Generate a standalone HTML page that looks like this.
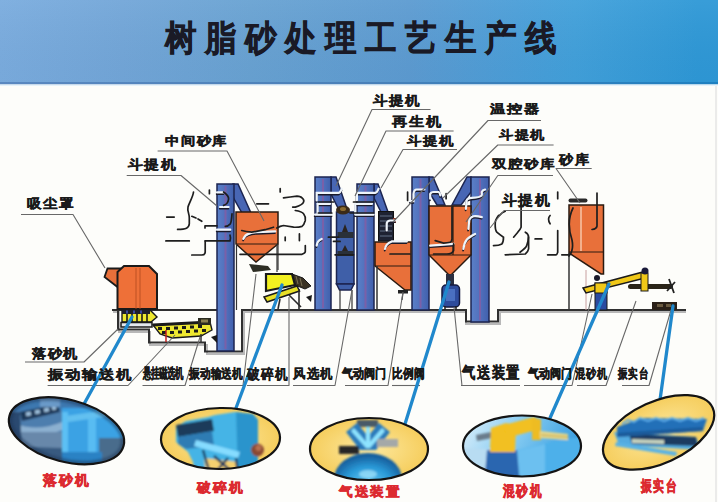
<!DOCTYPE html>
<html><head><meta charset="utf-8">
<style>
html,body{margin:0;padding:0;background:#fff;}
body{width:718px;height:502px;overflow:hidden;position:relative;font-family:"Liberation Sans",sans-serif;}
svg{position:absolute;left:0;top:0;}
text{font-family:"Liberation Sans",sans-serif;font-weight:900;}
</style></head><body>
<svg width="718" height="502" viewBox="0 0 718 502">
<defs>
<linearGradient id="hdr" x1="0" y1="0" x2="1" y2="0">
<stop offset="0" stop-color="#7aacde"/>
<stop offset="0.17" stop-color="#72a6d8"/>
<stop offset="0.35" stop-color="#68a2d2"/>
<stop offset="0.57" stop-color="#5c9bd1"/>
<stop offset="0.72" stop-color="#4a9ed8"/>
<stop offset="0.8" stop-color="#41a0da"/>
<stop offset="0.97" stop-color="#2e98d6"/>
</linearGradient>
<linearGradient id="hdrv" x1="0" y1="0" x2="0" y2="1">
<stop offset="0" stop-color="#ffffff" stop-opacity="0.05"/>
<stop offset="1" stop-color="#000020" stop-opacity="0.02"/>
</linearGradient>
<linearGradient id="blueph" x1="0" y1="0" x2="1" y2="1">
<stop offset="0" stop-color="#2a4a70"/>
<stop offset="0.45" stop-color="#3aa8e0"/>
<stop offset="1" stop-color="#1e5a90"/>
</linearGradient>
<radialGradient id="yel" cx="0.5" cy="0.5" r="0.6">
<stop offset="0" stop-color="#fde9a0"/>
<stop offset="1" stop-color="#f4c850"/>
</radialGradient>
<linearGradient id="skyb" x1="0" y1="0" x2="1" y2="0.3">
<stop offset="0" stop-color="#e0f0fa"/>
<stop offset="0.5" stop-color="#86ccf2"/>
<stop offset="1" stop-color="#3a9ee0"/>
</linearGradient>
<radialGradient id="tank" cx="0.5" cy="0.6" r="0.55">
<stop offset="0" stop-color="#6cd0f8"/>
<stop offset="0.6" stop-color="#2a9ad8"/>
<stop offset="1" stop-color="#17609e"/>
</radialGradient>
<filter id="soft" x="-10%" y="-10%" width="120%" height="120%"><feGaussianBlur stdDeviation="0.9"/></filter>
<linearGradient id="colg" x1="0" y1="0" x2="1" y2="0">
<stop offset="0" stop-color="#5a80c8"/>
<stop offset="0.5" stop-color="#5270bc"/>
<stop offset="1" stop-color="#4060ac"/>
</linearGradient>
<linearGradient id="band" x1="0" y1="0" x2="1" y2="0">
<stop offset="0" stop-color="#5a88c0"/>
<stop offset="0.5" stop-color="#4a80b8"/>
<stop offset="1" stop-color="#1e80c0"/>
</linearGradient>
</defs>
<rect x="0" y="0" width="718" height="502" fill="#fdfdfa"/>
<rect x="0" y="0" width="718" height="84" fill="url(#hdr)"/>
<rect x="0" y="0" width="718" height="84" fill="url(#hdrv)"/>
<rect x="0" y="82" width="718" height="2.5" fill="url(#band)"/>
<rect x="0" y="84.5" width="718" height="1.5" fill="#e6f2fa"/>
<line x1="716" y1="86" x2="716" y2="502" stroke="#e4e4e4" stroke-width="1.5"/>

<text x="0" y="0" font-size="35" fill="#1a1a26" stroke="#1a1a26" stroke-width="0.7" transform="translate(165.0,50) scale(0.9,1)">树</text>
<text x="0" y="0" font-size="35" fill="#1a1a26" stroke="#1a1a26" stroke-width="0.7" transform="translate(205.0,50) scale(0.9,1)">脂</text>
<text x="0" y="0" font-size="35" fill="#1a1a26" stroke="#1a1a26" stroke-width="0.7" transform="translate(245.0,50) scale(0.9,1)">砂</text>
<text x="0" y="0" font-size="35" fill="#1a1a26" stroke="#1a1a26" stroke-width="0.7" transform="translate(285.0,50) scale(0.9,1)">处</text>
<text x="0" y="0" font-size="35" fill="#1a1a26" stroke="#1a1a26" stroke-width="0.7" transform="translate(325.0,50) scale(0.9,1)">理</text>
<text x="0" y="0" font-size="35" fill="#1a1a26" stroke="#1a1a26" stroke-width="0.7" transform="translate(365.0,50) scale(0.9,1)">工</text>
<text x="0" y="0" font-size="35" fill="#1a1a26" stroke="#1a1a26" stroke-width="0.7" transform="translate(405.0,50) scale(0.9,1)">艺</text>
<text x="0" y="0" font-size="35" fill="#1a1a26" stroke="#1a1a26" stroke-width="0.7" transform="translate(445.0,50) scale(0.9,1)">生</text>
<text x="0" y="0" font-size="35" fill="#1a1a26" stroke="#1a1a26" stroke-width="0.7" transform="translate(485.0,50) scale(0.9,1)">产</text>
<text x="0" y="0" font-size="35" fill="#1a1a26" stroke="#1a1a26" stroke-width="0.7" transform="translate(525.0,50) scale(0.9,1)">线</text>
<g fill="none" stroke-linejoin="miter">
<path d="M113 312 H119 V332 H150 V345 H207 V354 H244 V312 H466 V324 H500 V312 H686" stroke="#b8b8b8" stroke-width="2"/>
<path d="M112 310 H217 M118 310 V329.5 H149 V342.5 H205 V351.5 H242 V310 H466 V321.5 H498 V310 H686" stroke="#303030" stroke-width="2"/>
</g>
<polygon points="233,184 238,184 251,213 242,213 233,197" fill="#4866b4" stroke="#1c2550" stroke-width="1.5"/>
<rect x="217" y="184" width="17" height="167" fill="url(#colg)" stroke="#1c2550" stroke-width="1.5"/>
<line x1="225.5" y1="186" x2="225.5" y2="349" stroke="#7a60a8" stroke-width="2"/>
<polygon points="331,177 336,177 348,212 340,212 331,194" fill="#4866b4" stroke="#1c2550" stroke-width="1.5"/>
<rect x="315" y="177" width="16" height="133" fill="url(#colg)" stroke="#1c2550" stroke-width="1.5"/>
<line x1="323.0" y1="179" x2="323.0" y2="308" stroke="#7a60a8" stroke-width="2"/>
<polygon points="374,184 378,184 388,212 381,212 374,198" fill="#4866b4" stroke="#1c2550" stroke-width="1.5"/>
<rect x="357" y="184" width="17" height="126" fill="url(#colg)" stroke="#1c2550" stroke-width="1.5"/>
<line x1="365.5" y1="186" x2="365.5" y2="308" stroke="#7a60a8" stroke-width="2"/>
<polygon points="429,177 433,177 445,205 437,205 429,192" fill="#4866b4" stroke="#1c2550" stroke-width="1.5"/>
<rect x="412" y="177" width="17" height="133" fill="url(#colg)" stroke="#1c2550" stroke-width="1.5"/>
<line x1="420.5" y1="179" x2="420.5" y2="308" stroke="#7a60a8" stroke-width="2"/>
<polygon points="471,177 467,177 452,205 461,205 471,192" fill="#4866b4" stroke="#1c2550" stroke-width="1.5"/>
<rect x="471" y="177" width="18" height="145" fill="url(#colg)" stroke="#1c2550" stroke-width="1.5"/>
<line x1="480.0" y1="179" x2="480.0" y2="320" stroke="#7a60a8" stroke-width="2"/>
<g stroke="#2a1a10" stroke-width="1.5">
<polygon points="236,212 278,212 278,244 256,262 236,244" fill="#e8703a"/>
<line x1="236" y1="244" x2="278" y2="244" stroke-width="1"/>
<polygon points="375,242 411,242 411,290 405,290 375,266" fill="#e8703a"/>
<line x1="375" y1="266" x2="411" y2="266" stroke-width="1"/>
<polygon points="429,206 471,206 471,255 450,276 429,255" fill="#e8703a"/>
<line x1="429" y1="255" x2="471" y2="255" stroke-width="1"/>
<line x1="453" y1="206" x2="453" y2="255" stroke-width="1.2"/>
<polygon points="569,205 603.5,205 603.5,274 601,274 569,253" fill="#e8703a"/>
<line x1="569" y1="252" x2="603.5" y2="252" stroke-width="1"/>
</g>
<line x1="581" y1="207" x2="581" y2="251" stroke="#fff0e0" stroke-width="1"/>
<rect x="568.5" y="198.5" width="19" height="4" rx="2" fill="#2a2a2a"/>
<line x1="569" y1="253" x2="569" y2="310" stroke="#333" stroke-width="1.5"/>
<line x1="377" y1="266" x2="377" y2="310" stroke="#333" stroke-width="1.5"/>
<line x1="278" y1="244" x2="278" y2="270" stroke="#333" stroke-width="1.2"/>

<g fill="#222">
<rect x="398" y="290" width="10" height="3.5"/>
<line x1="403" y1="293" x2="402" y2="300" stroke="#333" stroke-width="1.2"/>
<rect x="446" y="274" width="8" height="4" fill="#2a2418"/>
</g>
<g stroke="#1c2550" stroke-width="1.5">
<rect x="336.5" y="212" width="17.5" height="72" fill="#3f5fa8"/>
<polygon points="336.5,284 354,284 351,290 339.5,290" fill="#3f5fa8"/>
</g>
<ellipse cx="343" cy="210" rx="7" ry="4.5" fill="#3a2a18"/>
<ellipse cx="343" cy="209" rx="3" ry="2" fill="#8a6a30"/>
<rect x="337.5" y="232" width="16" height="6" fill="#2a3038"/>
<polygon points="342,232 345,224 348,232" fill="#2a2420"/>
<rect x="337.5" y="251" width="16" height="5" fill="#2a3038"/>
<polygon points="342,251 345,245 348,251" fill="#2a2420"/>
<line x1="340" y1="290" x2="340" y2="310" stroke="#333" stroke-width="1.2"/>
<line x1="352" y1="290" x2="352" y2="310" stroke="#333" stroke-width="1.2"/>
<rect x="378.5" y="211.5" width="15" height="29.5" fill="#1e2232" stroke="#111" stroke-width="1"/>
<g stroke="#6a7890" stroke-width="0.9"><line x1="380" y1="216" x2="392" y2="216"/><line x1="380" y1="221" x2="392" y2="221"/><line x1="380" y1="226" x2="392" y2="226"/><line x1="380" y1="231" x2="392" y2="231"/><line x1="380" y1="236" x2="392" y2="236"/></g>
<rect x="393" y="218" width="3" height="5" fill="#8a3a2a"/>

<rect x="446" y="274" width="8" height="12" fill="#2a2e40"/>
<rect x="442" y="285" width="17.5" height="22" rx="4" fill="#2e4c9c" stroke="#141a40" stroke-width="1.5"/>
<rect x="446" y="289" width="9" height="12" fill="#4a70c0"/>
<line x1="445" y1="306" x2="445" y2="310" stroke="#222" stroke-width="1.5"/>
<line x1="456" y1="306" x2="456" y2="310" stroke="#222" stroke-width="1.5"/>

<polygon points="104.5,277 107.5,268.5 120,268.5 117.5,287" fill="#e8703a" stroke="#1a1a1a" stroke-width="1.8"/>
<polygon points="117.5,272 124,266 149,266 157,274 157,309 117.5,309" fill="#ee7038" stroke="#1a1a1a" stroke-width="2"/>
<line x1="136" y1="268" x2="136" y2="309" stroke="#b04a20" stroke-width="0.8"/>
<line x1="140" y1="268" x2="140" y2="309" stroke="#b04a20" stroke-width="0.8"/>
<polygon points="122,310 150,310 157,317 151,322 122,322" fill="#eee830" stroke="#1a1a1a" stroke-width="1.4"/>
<rect x="122" y="310" width="28" height="4" fill="#1e1e2a"/>
<g fill="#3a4aa0"><rect x="126" y="310.5" width="2" height="3"/><rect x="133" y="310.5" width="2" height="3"/><rect x="140" y="310.5" width="2" height="3"/></g>
<g stroke="#1a1a1a" stroke-width="1.6"><line x1="127" y1="314" x2="127" y2="322"/><line x1="132" y1="314" x2="132" y2="322"/><line x1="137" y1="314" x2="137" y2="322"/><line x1="142" y1="314" x2="142" y2="322"/><line x1="147" y1="314" x2="147" y2="322"/></g>
<rect x="121" y="322.5" width="31" height="4.5" fill="#e4e8ee" stroke="#1a1a1a" stroke-width="1.5"/>
<path d="M153 325 L210 322 L212 330 L201 336 L172 338 L160 334 Z" fill="#eee830" stroke="#1a1a1a" stroke-width="1.4"/>
<path d="M153 325 L210 322" stroke="#1a1a1a" stroke-width="3"/>
<g fill="#1a1a1a">
<rect x="158" y="327" width="4" height="3"/><rect x="166" y="327" width="4" height="3"/><rect x="174" y="326.5" width="4" height="3"/><rect x="182" y="326" width="4" height="3"/><rect x="190" y="325.5" width="4" height="3"/><rect x="198" y="325" width="4" height="3"/>
<rect x="162" y="331" width="4" height="3"/><rect x="170" y="331" width="4" height="3"/><rect x="178" y="330.5" width="4" height="3"/><rect x="186" y="330" width="4" height="3"/><rect x="194" y="329.5" width="4" height="3"/><rect x="202" y="329" width="4" height="3"/>
</g>
<rect x="198" y="318" width="13" height="7" fill="#2a2a20"/>
<rect x="201" y="319.5" width="7" height="3" fill="#8a8050"/>
<line x1="166" y1="330" x2="166" y2="342" stroke="#c02020" stroke-width="1.5"/>
<line x1="201" y1="334" x2="201" y2="343" stroke="#333" stroke-width="1.5"/>
<polygon points="211,337 217,335 217,343" fill="#1a1a1a"/>

<polygon points="249,264 268,266 271,270 253,272" fill="#2e2e24"/>
<line x1="236.5" y1="244" x2="236.5" y2="310" stroke="#333" stroke-width="1.2"/>
<line x1="277" y1="244" x2="277" y2="272" stroke="#333" stroke-width="1.2"/>

<polygon points="292,274 303,278 311,286 305,289 295,285" fill="#3a3224" stroke="#1a1a1a" stroke-width="1"/>
<g stroke="#8a8060" stroke-width="0.8"><line x1="296" y1="276" x2="298" y2="284"/><line x1="300" y1="278" x2="302" y2="286"/></g>
<polygon points="266,274 292,274 295,285 266,291" fill="#f2f020" stroke="#1a1a1a" stroke-width="2.2"/>
<polygon points="264,297 297,286 299.5,291 267,302" fill="#e8e028" stroke="#1a1a1a" stroke-width="1.5"/>
<g stroke="#2a2a2a" stroke-width="1.6"><line x1="299" y1="289" x2="299" y2="309"/><line x1="289" y1="295" x2="301" y2="307"/><line x1="280" y1="299" x2="278" y2="309"/></g>
<polygon points="306,297 312,295 311,302" fill="#1a1a1a"/>

<line x1="586" y1="270" x2="586" y2="310" stroke="#c8a0a0" stroke-width="1"/>
<polygon points="583,288 643,272 645,278 586,293" fill="#f0c818" stroke="#1a1a1a" stroke-width="1.5"/>
<rect x="595" y="283" width="12" height="27" fill="#2a4aa0" stroke="#1a1a1a" stroke-width="1"/>
<rect x="595" y="283" width="12" height="10" fill="#f0c818" stroke="#1a1a1a" stroke-width="1"/>
<circle cx="597" cy="278" r="3" fill="#1a1a2a"/>
<rect x="628" y="284" width="45" height="5" rx="2.5" fill="#2a2418"/>
<rect x="641" y="273" width="7" height="18" fill="#f0c818" stroke="#1a1a1a" stroke-width="1"/>
<circle cx="645" cy="271" r="3.5" fill="#1a1a3a"/>
<path d="M669 279 L674 293 M667 291 L675 282" stroke="#222" stroke-width="1.8"/>

<rect x="652" y="302" width="25" height="8" fill="#2a2018"/>
<rect x="657" y="304" width="6" height="3" fill="#6a5a40"/>
<rect x="666" y="304" width="5" height="3" fill="#6a5a40"/>

<g fill="none" stroke-linecap="round">
<path d="M217 192.4 H223.6 M220 207 H228.6 M217 229.7 H230.3" stroke="#1a1a2a" stroke-width="1.8" transform="translate(-0.3,1.6)"/>
<path d="M243.4 238.9 Q245 235 248.4 233.9 Q252 232.2 256.8 232.2 L275.2 231.4" stroke="#1a1a2a" stroke-width="1.8" transform="translate(-0.3,1.6)"/>
<path d="M341.8 188.7 Q340 192.9 338.5 192.9 H316.7 V200.4" stroke="#1a1a2a" stroke-width="1.8" transform="translate(-0.3,1.6)"/>
<path d="M317.6 213.8 V203.8 H330.1 M315 214.6 H331.8" stroke="#1a1a2a" stroke-width="1.8" transform="translate(-0.3,1.6)"/>
<path d="M378.6 188.7 Q377 192.9 375.3 192.9 H356.9 V200.4" stroke="#1a1a2a" stroke-width="1.8" transform="translate(-0.3,1.6)"/>
<path d="M355.2 213.8 V203.8 H372 M355.2 214.6 H373.6" stroke="#1a1a2a" stroke-width="1.8" transform="translate(-0.3,1.6)"/>
<path d="M316.7 245.6 Q317 241 321.7 238.9" stroke="#1a1a2a" stroke-width="1.8" transform="translate(-0.3,1.6)"/>
<path d="M410.1 201.2 H413.5 V194 Q414 189.5 416.8 189.5 H424.4" stroke="#1a1a2a" stroke-width="1.8" transform="translate(-0.3,1.6)"/>
<path d="M430.2 198.7 V194 Q431 192 433.6 192 H438.6 Q440 192.5 440.3 195.4" stroke="#1a1a2a" stroke-width="1.8" transform="translate(-0.3,1.6)"/>
<path d="M395.1 220.5 H390 Q386.7 221 386.7 223.8 V230.5" stroke="#1a1a2a" stroke-width="1.8" transform="translate(-0.3,1.6)"/>
<path d="M430.2 245.6 L453.6 243.9" stroke="#1a1a2a" stroke-width="1.8" transform="translate(-0.3,1.6)"/>
<path d="M385 249 Q385.5 244 391.7 241.4 H406.8" stroke="#1a1a2a" stroke-width="1.8" transform="translate(-0.3,1.6)"/>
<path d="M485.1 189.5 Q482.6 190 481.8 192 V195 Q481 197.5 471.7 197.9 Q467 198.5 466.7 200.4 L465.9 208.8" stroke="#1a1a2a" stroke-width="1.8" transform="translate(-0.3,1.6)"/>
<path d="M481.8 217.1 Q476 215.5 473.4 216.3 Q469.2 218 469.2 220.5 L468.4 228.9" stroke="#1a1a2a" stroke-width="1.8" transform="translate(-0.3,1.6)"/>
<path d="M475.1 233.9 Q469 237 466.7 239.7 Q464 243 463.4 249" stroke="#1a1a2a" stroke-width="1.8" transform="translate(-0.3,1.6)"/>
<path d="M217 192.4 H223.6 M220 207 H228.6 M217 229.7 H230.3" stroke="#eef4fa" stroke-width="2.2"/>
<path d="M243.4 238.9 Q245 235 248.4 233.9 Q252 232.2 256.8 232.2 L275.2 231.4" stroke="#eef4fa" stroke-width="2.2"/>
<path d="M341.8 188.7 Q340 192.9 338.5 192.9 H316.7 V200.4" stroke="#eef4fa" stroke-width="2.2"/>
<path d="M317.6 213.8 V203.8 H330.1 M315 214.6 H331.8" stroke="#eef4fa" stroke-width="2.2"/>
<path d="M378.6 188.7 Q377 192.9 375.3 192.9 H356.9 V200.4" stroke="#eef4fa" stroke-width="2.2"/>
<path d="M355.2 213.8 V203.8 H372 M355.2 214.6 H373.6" stroke="#eef4fa" stroke-width="2.2"/>
<path d="M316.7 245.6 Q317 241 321.7 238.9" stroke="#eef4fa" stroke-width="2.2"/>
<path d="M410.1 201.2 H413.5 V194 Q414 189.5 416.8 189.5 H424.4" stroke="#eef4fa" stroke-width="2.2"/>
<path d="M430.2 198.7 V194 Q431 192 433.6 192 H438.6 Q440 192.5 440.3 195.4" stroke="#eef4fa" stroke-width="2.2"/>
<path d="M395.1 220.5 H390 Q386.7 221 386.7 223.8 V230.5" stroke="#eef4fa" stroke-width="2.2"/>
<path d="M430.2 245.6 L453.6 243.9" stroke="#eef4fa" stroke-width="2.2"/>
<path d="M385 249 Q385.5 244 391.7 241.4 H406.8" stroke="#eef4fa" stroke-width="2.2"/>
<path d="M485.1 189.5 Q482.6 190 481.8 192 V195 Q481 197.5 471.7 197.9 Q467 198.5 466.7 200.4 L465.9 208.8" stroke="#eef4fa" stroke-width="2.2"/>
<path d="M481.8 217.1 Q476 215.5 473.4 216.3 Q469.2 218 469.2 220.5 L468.4 228.9" stroke="#eef4fa" stroke-width="2.2"/>
<path d="M475.1 233.9 Q469 237 466.7 239.7 Q464 243 463.4 249" stroke="#eef4fa" stroke-width="2.2"/>
<path d="M193.5 192 C193 197 189 203 188 207 C187 211 189.5 214 189.3 218 L189.3 223.8 C189 228 186 229.4 177.6 229.4" stroke="#1e1e1e" stroke-width="1.7"/>
<path d="M166.7 217.1 H174.2" stroke="#1e1e1e" stroke-width="1.7"/>
<path d="M191.8 216.3 L196 218 M198 219 L201.8 221.3" stroke="#1e1e1e" stroke-width="1.7"/>
<path d="M205 225.8 H217 M205 225.8 V228" stroke="#1e1e1e" stroke-width="1.7"/>
<path d="M165.9 240.9 H189.3" stroke="#1e1e1e" stroke-width="1.7"/>
<path d="M205.2 240.9 H230 Q231 238 230 235" stroke="#1e1e1e" stroke-width="1.7"/>
<path d="M205.2 240.9 V252.3 Q205 255 201.8 255 H191.8" stroke="#1e1e1e" stroke-width="1.7"/>
<path d="M223.6 192 Q229 196 228.6 199 Q228 204 223.6 205.4" stroke="#1e1e1e" stroke-width="1.7"/>
<path d="M232 213.8 Q231.5 222 230.3 223.8 Q228 226.3 225.3 226.3" stroke="#1e1e1e" stroke-width="1.7"/>
<path d="M209.4 190 V193.7" stroke="#1e1e1e" stroke-width="1.7"/>
<path d="M283.5 197.9 L290.2 197 L296.9 196.2 Q301 196.5 302 197.9 Q304.5 200 303.6 202 Q302.5 205 295.3 207.1 H292.7" stroke="#1e1e1e" stroke-width="1.7"/>
<path d="M256.8 203.8 H268.5" stroke="#1e1e1e" stroke-width="1.7"/>
<path d="M295.3 210.5 Q302 211.5 303.6 213.8 Q306 217 305.3 220.5 Q304 225 302 226.4 Q298 227.5 293.6 227.2 L283.5 225.5 L280.2 226.4 L276.8 228" stroke="#1e1e1e" stroke-width="1.7"/>
<path d="M241.7 230.5 Q246 231.5 251.7 232.2 L265.1 229.7 L273.5 227.2" stroke="#1e1e1e" stroke-width="1.7"/>
<path d="M285.2 237.2 V240.6 M299.4 233.9 V240.6" stroke="#1e1e1e" stroke-width="1.7"/>
<path d="M240 254.3 H302 Q305.3 253 305.3 251.5 V245.6" stroke="#1e1e1e" stroke-width="1.7"/>
<path d="M280.2 188.7 V192" stroke="#1e1e1e" stroke-width="1.7"/>
<path d="M318.4 202 H333.5 M353.5 202 H373.6" stroke="#1e1e1e" stroke-width="1.7"/>
<path d="M318.4 213 H331.8 M350.2 213 H373.6" stroke="#1e1e1e" stroke-width="1.7"/>
<path d="M328.4 237.2 H338.5 M333.5 241.4 H340.1" stroke="#1e1e1e" stroke-width="1.7"/>
<path d="M335.1 254.8 H353.5" stroke="#1e1e1e" stroke-width="1.7"/>
<path d="M407.6 192 V200.4 M446.1 193.7 V198.7" stroke="#1e1e1e" stroke-width="1.7"/>
<path d="M452 207.1 V238.9 Q451.5 242 450.3 242.3 Q447 243.1 443.6 243.1 L435.2 240.6" stroke="#1e1e1e" stroke-width="1.7"/>
<path d="M453.6 243.9 V250.6 Q452 254 446.9 254 H433.6" stroke="#1e1e1e" stroke-width="1.7"/>
<path d="M390 254 H410" stroke="#1e1e1e" stroke-width="1.7"/>
<path d="M498.5 215.5 Q495 220 495.2 223.8 Q495 230 496.8 232.2 Q500 235 503.5 237.2 Q503.5 242 501.9 243.9 Q499 245.6 493.5 245.6" stroke="#1e1e1e" stroke-width="1.7"/>
<path d="M521.1 203.8 V227.2 Q520 230 517.8 232.2 L513.6 237.2" stroke="#1e1e1e" stroke-width="1.7"/>
<path d="M525.3 232.2 Q528.6 234 528.6 237.2 V248.9 Q528 252 525.3 254 L505.2 254.8" stroke="#1e1e1e" stroke-width="1.7"/>
<path d="M505.2 211.3 Q502 212.5 499.4 215.5" stroke="#1e1e1e" stroke-width="1.7"/>
<path d="M557.7 192 V198.7" stroke="#1e1e1e" stroke-width="1.7"/>
<path d="M550.1 215.5 Q547 218.8 550.1 223.8" stroke="#1e1e1e" stroke-width="1.7"/>
<path d="M535.1 238.9 H541.8" stroke="#1e1e1e" stroke-width="1.7"/>
<path d="M557.7 230.5 V252.3 Q557 254.8 556 254.8 H547.6" stroke="#1e1e1e" stroke-width="1.7"/>
<path d="M561.8 254.8 H568.5" stroke="#1e1e1e" stroke-width="1.7"/>
<path d="M520 252.3 Q526 248 526.7 245.6 Q528.4 241 528.4 237.2" stroke="#1e1e1e" stroke-width="1.7"/>
<path d="M597 193 V226 Q596.5 229 592 229.5" stroke="#1e1e1e" stroke-width="1.7"/>
<path d="M573 208 Q566 222 572 240 Q574 250 569 256" stroke="#1e1e1e" stroke-width="1.7"/>
</g>
<g fill="none" stroke="#686868" stroke-width="1.1" stroke-linejoin="round">
<path d="M21 214.5 H73 L105 268"/>
<path d="M126.7 175.5 H181 L217 206"/>
<path d="M157.6 151 H227 L264 221"/>
<path d="M430.5 109.5 H372 L336 186"/>
<path d="M453.6 131 H386 L355 196"/>
<path d="M457 149.5 H403 L381 188"/>
<path d="M541 120.5 H488 L393 222"/>
<path d="M553.6 145 H497.8 L443 198"/>
<path d="M553 175.5 H497.8 L466 222"/>
<path d="M591.7 168.5 H556 L580 203"/>
<path d="M550 210.5 H504 L490 228"/>
<path d="M25 362 H84 L118 329"/>
<path d="M47.6 385.5 H128 L175 335"/>
<path d="M142.5 385.5 H185 L200 337"/>
<path d="M189 385.5 H243 L256 274"/>
<path d="M247 385.5 H289 V297"/>
<path d="M293 385.5 H335 L352 290"/>
<path d="M345 385.5 H388 L403 292"/>
<path d="M392 385.5 H420"/>
<path d="M461 385.5 H520 M462 386 L454 307"/>
<path d="M524 385.5 H572 L592 294"/>
<path d="M577 385.5 H606 L636 301"/>
<path d="M622 385.5 H649 L671 310"/>
</g>
<g stroke="#2088cc" stroke-width="3.3" stroke-linecap="round">
<line x1="132" y1="317" x2="84" y2="404"/>
<line x1="282" y1="285" x2="236" y2="408"/>
<line x1="449" y1="282" x2="405" y2="424"/>
<line x1="609" y1="284" x2="550" y2="418"/>
<line x1="673" y1="306" x2="660" y2="400"/>
</g>
<text x="0.00 14.38 28.75" y="0" font-size="12.75" fill="#1a1a1a" stroke="#1a1a1a" stroke-width="0.4" transform="translate(27.0,208.0) scale(1.119,1)" >吸尘罩</text>
<text x="0.00 14.38 28.75" y="0" font-size="12.75" fill="#1a1a1a" stroke="#1a1a1a" stroke-width="0.4" transform="translate(128.0,169.0) scale(1.143,1)" >斗提机</text>
<text x="0.00 13.27 26.54 39.81" y="0" font-size="11.76" fill="#1a1a1a" stroke="#1a1a1a" stroke-width="0.4" transform="translate(165.0,145.1) scale(1.191,1)" >中间砂库</text>
<text x="0.00 14.38 28.75" y="0" font-size="12.75" fill="#1a1a1a" stroke="#1a1a1a" stroke-width="0.4" transform="translate(373.0,105.0) scale(1.119,1)" >斗提机</text>
<text x="0.00 14.38 28.75" y="0" font-size="12.75" fill="#1a1a1a" stroke="#1a1a1a" stroke-width="0.4" transform="translate(392.0,126.0) scale(1.168,1)" >再生机</text>
<text x="0.00 13.27 26.54" y="0" font-size="11.76" fill="#1a1a1a" stroke="#1a1a1a" stroke-width="0.4" transform="translate(407.0,145.1) scale(1.212,1)" >斗提机</text>
<text x="0.00 13.27 26.54" y="0" font-size="11.76" fill="#1a1a1a" stroke="#1a1a1a" stroke-width="0.4" transform="translate(490.0,113.1) scale(1.265,1)" >温控器</text>
<text x="0.00 13.27 26.54" y="0" font-size="11.76" fill="#1a1a1a" stroke="#1a1a1a" stroke-width="0.4" transform="translate(499.0,139.1) scale(1.186,1)" >斗提机</text>
<text x="0.00 13.27 26.54 39.81" y="0" font-size="11.76" fill="#1a1a1a" stroke="#1a1a1a" stroke-width="0.4" transform="translate(492.0,168.1) scale(1.210,1)" >双腔砂库</text>
<text x="0.00 14.38" y="0" font-size="12.75" fill="#1a1a1a" stroke="#1a1a1a" stroke-width="0.4" transform="translate(559.0,164.0) scale(1.085,1)" >砂库</text>
<text x="0.00 15.48 30.96" y="0" font-size="13.73" fill="#1a1a1a" stroke="#1a1a1a" stroke-width="0.4" transform="translate(502.0,204.8) scale(1.062,1)" >斗提机</text>
<text x="0.00 14.38 28.75" y="0" font-size="12.75" fill="#1a1a1a" stroke="#1a1a1a" stroke-width="0.4" transform="translate(32.0,358.0) scale(1.095,1)" >落砂机</text>
<text x="0.00 14.38 28.75 43.13 57.50" y="0" font-size="12.75" fill="#1a1a1a" stroke="#1a1a1a" stroke-width="0.4" transform="translate(48.0,379.0) scale(1.188,1)" >振动输送机</text>
<text x="0" y="0" font-size="13.73" fill="#1a1a1a" stroke="#1a1a1a" stroke-width="0.5" transform="translate(143.0,377.8) scale(0.601,1)" >悬挂磁选机</text>
<text x="0" y="0" font-size="12.75" fill="#1a1a1a" stroke="#1a1a1a" stroke-width="0.5" transform="translate(189.0,378.0) scale(0.821,1)" >振动输送机</text>
<text x="0.00 15.48 30.96" y="0" font-size="13.73" fill="#1a1a1a" stroke="#1a1a1a" stroke-width="0.4" transform="translate(247.0,378.8) scale(0.903,1)" >破碎机</text>
<text x="0.00 14.38 28.75" y="0" font-size="12.75" fill="#1a1a1a" stroke="#1a1a1a" stroke-width="0.4" transform="translate(293.0,378.0) scale(0.949,1)" >风选机</text>
<text x="0" y="0" font-size="12.75" fill="#1a1a1a" stroke="#1a1a1a" stroke-width="0.5" transform="translate(342.0,378.0) scale(0.850,1)" >气动阀门</text>
<text x="0" y="0" font-size="12.75" fill="#1a1a1a" stroke="#1a1a1a" stroke-width="0.5" transform="translate(392.0,378.0) scale(0.819,1)" >比例阀</text>
<text x="0.00 17.69 35.39 53.08" y="0" font-size="15.69" fill="#1a1a1a" stroke="#1a1a1a" stroke-width="0.4" transform="translate(462.0,377.5) scale(0.835,1)" >气送装置</text>
<text x="0" y="0" font-size="12.75" fill="#1a1a1a" stroke="#1a1a1a" stroke-width="0.5" transform="translate(528.0,378.0) scale(0.850,1)" >气动阀门</text>
<text x="0.00 14.38 28.75" y="0" font-size="12.75" fill="#1a1a1a" stroke="#1a1a1a" stroke-width="0.4" transform="translate(575.0,378.0) scale(0.778,1)" >混砂机</text>
<text x="0.00 14.38 28.75" y="0" font-size="12.75" fill="#1a1a1a" stroke="#1a1a1a" stroke-width="0.4" transform="translate(618.0,378.0) scale(0.730,1)" >振实台</text>
<clipPath id="ce1"><ellipse cx="0" cy="0" rx="59" ry="31" transform="translate(66.5,430.8) rotate(14.6)"/></clipPath>
<ellipse cx="0" cy="0" rx="59" ry="31" fill="#4a8cc4" transform="translate(66.5,430.8) rotate(14.6)"/>
<g clip-path="url(#ce1)"><g filter="url(#soft)">
<rect x="0" y="385" width="135" height="90" fill="#3a94d8"/>
<polygon points="0,385 62,385 62,475 0,475" fill="#4e7eae"/>
<polygon points="0,385 135,385 135,404 60,410 0,412" fill="#3e78b0"/>
<polygon points="20,412 58,404 60,412 22,421" fill="#1e3858"/>
<g fill="#9ec0dc"><rect x="26" y="412" width="5" height="4" transform="rotate(-12 28 414)"/><rect x="35" y="410" width="5" height="4" transform="rotate(-12 37 412)"/><rect x="44" y="408" width="5" height="4" transform="rotate(-12 46 410)"/><rect x="52" y="406" width="4" height="4" transform="rotate(-12 54 408)"/></g>
<path d="M16 424 Q38 432 62 422 L62 430 Q38 440 16 432 Z" fill="#8cb0d0"/>
<rect x="10" y="432" width="52" height="18" fill="#6888aa"/>
<polygon points="0,446 62,448 62,475 0,475" fill="#385a80"/>
<polygon points="0,412 20,412 22,450 0,450" fill="#2a4a70"/>
<rect x="62" y="408" width="62" height="62" fill="#3aa2e4"/>
<rect x="62" y="412" width="6" height="58" fill="#5cc0f4"/>
<rect x="88" y="414" width="8" height="56" fill="#58bcf2"/>
<polygon points="66,416 120,408 124,414 68,422" fill="#62c0f0"/>
<rect x="99" y="438" width="26" height="24" fill="#4a6c8c"/>
<rect x="62" y="452" width="40" height="20" fill="#2c82c4"/>
<rect x="40" y="395" width="20" height="12" fill="#6a9ac8"/>
</g>
<ellipse cx="0" cy="0" rx="59" ry="31" transform="translate(66.5,430.8) rotate(14.6)" fill="none" stroke="#1a3050" stroke-width="7" opacity="0.45" filter="url(#soft)"/>
</g>
<ellipse cx="0" cy="0" rx="59" ry="31" fill="none" stroke="#141414" stroke-width="2.2" transform="translate(66.5,430.8) rotate(14.6)"/>
<clipPath id="ce2"><ellipse cx="0" cy="0" rx="59.5" ry="30.5" transform="translate(220.5,438.5) rotate(-1)"/></clipPath>
<ellipse cx="0" cy="0" rx="59.5" ry="30.5" fill="url(#yel)" transform="translate(220.5,438.5) rotate(-1)"/>
<g clip-path="url(#ce2)"><g filter="url(#soft)">
<polygon points="176,427 186,421 208,417 215,415 235,412 253,414 258,420 258,475 195,475 193,462 188,452 176,442" fill="#44b4e6"/>
<polygon points="176,425 212,419 214,431 178,437" fill="#1e3a5a"/>
<polygon points="178,437 212,431 214,446 186,449 178,444" fill="#2e7cb4"/>
<polygon points="236,412 253,414 258,420 258,475 238,475" fill="#2c94cc"/>
<polygon points="196,440 240,452 238,458 194,446" fill="#86dcff"/>
<polygon points="204,458 238,462 236,475 206,475" fill="#f4d070"/>
<path d="M203 450 L210 474 M214 456 L232 472 M228 458 L214 474 M236 458 L238 474" stroke="#1a3a60" stroke-width="2.4" fill="none"/>
<circle cx="257.5" cy="450" r="6.5" fill="#8a4830"/>
<circle cx="258.5" cy="448" r="3" fill="#b87050"/>
</g>
</g>
<ellipse cx="0" cy="0" rx="59.5" ry="30.5" fill="none" stroke="#141414" stroke-width="2.2" transform="translate(220.5,438.5) rotate(-1)"/>
<clipPath id="ce3"><ellipse cx="0" cy="0" rx="59" ry="31" transform="translate(369,449) rotate(0)"/></clipPath>
<ellipse cx="0" cy="0" rx="59" ry="31" fill="url(#yel)" transform="translate(369,449) rotate(0)"/>
<g clip-path="url(#ce3)"><g filter="url(#soft)">
<ellipse cx="368" cy="479" rx="34" ry="26" fill="url(#tank)"/>
<ellipse cx="368" cy="474" rx="9" ry="4" fill="#b8eeff" opacity="0.6"/>
<rect x="357" y="420" width="21" height="7" fill="#4a5a68"/>
<polygon points="346,432 357,423 368,436 379,423 390,432 376,450 360,450" fill="#2a7cbc"/>
<polygon points="354,428 368,444 382,428 385,431 370,448 366,448 351,431" fill="#8ee4ff"/>
<rect x="366" y="427" width="4" height="20" fill="#8ee4ff"/>
<rect x="339" y="446" width="20" height="8" fill="#262626"/>
<rect x="377" y="439" width="21" height="8" fill="#a4a8a8"/>
</g>
</g>
<ellipse cx="0" cy="0" rx="59" ry="31" fill="none" stroke="#141414" stroke-width="2.2" transform="translate(369,449) rotate(0)"/>
<clipPath id="ce4"><ellipse cx="0" cy="0" rx="59" ry="30.5" transform="translate(522,446) rotate(0)"/></clipPath>
<ellipse cx="0" cy="0" rx="59" ry="30.5" fill="url(#skyb)" transform="translate(522,446) rotate(0)"/>
<g clip-path="url(#ce4)"><g filter="url(#soft)">
<polygon points="455,448 517,450 517,485 455,485" fill="#b8dcf2"/>
<polygon points="517,450 560,440 590,436 590,485 517,485" fill="#4eb0ea"/>
<polygon points="517,450 545,444 545,485 517,485" fill="#6cc0f0"/>
<polygon points="487,450 517,450 520,485 484,485" fill="#2a66b0"/>
<polygon points="476,435 491,432 492,438 477,441" fill="#6a7c8c"/>
<polygon points="491,428 506,423 516,426 515,452 490,452" fill="#f2c020"/>
<polygon points="500,426 534,417 540,420 540,429 510,437" fill="#f2c020"/>
<rect x="532" y="419" width="9" height="21" fill="#eebc20"/>
<polygon points="540,431 568,434 568,440 540,438" fill="#e8d888"/>
<line x1="541" y1="435" x2="568" y2="437" stroke="#a89040" stroke-width="0.8"/>
</g>
</g>
<ellipse cx="0" cy="0" rx="59" ry="30.5" fill="none" stroke="#141414" stroke-width="2.2" transform="translate(522,446) rotate(0)"/>
<clipPath id="ce5"><ellipse cx="0" cy="0" rx="59.4" ry="30.8" transform="translate(658.6,432.4) rotate(-24.5)"/></clipPath>
<ellipse cx="0" cy="0" rx="59.4" ry="30.8" fill="url(#yel)" transform="translate(658.6,432.4) rotate(-24.5)"/>
<g clip-path="url(#ce5)"><g filter="url(#soft)">
<polygon points="614,432 696,437 701,450 619,445" fill="#52aae0"/>
<polygon points="629,434 696,437 698,446 632,444" fill="#1a3a60"/>
<polygon points="632,439 664,440 664,444 632,443" fill="#c8d4c0"/>
<polygon points="616,442 677,452 676,456 615,446" fill="#5ab2e4"/>
<polygon points="617,427 642,418 707,419 703,431 617,437" fill="#2070b8"/>
<path d="M622 424 L628 420 L634 422 L640 418 L648 421 L656 418 L664 421 L672 418 L680 421 L688 418 L696 421 L704 418" stroke="#58aae8" stroke-width="2" fill="none"/>
<polygon points="617,433 703,427 703,431 617,437" fill="#1e5a9a"/>
</g>
</g>
<ellipse cx="0" cy="0" rx="59.4" ry="30.8" fill="none" stroke="#141414" stroke-width="2.2" transform="translate(658.6,432.4) rotate(-24.5)"/>
<text x="0.00 16.24 32.47" y="0" font-size="13.73" fill="#dc2a30" stroke="#dc2a30" stroke-width="0.7" transform="translate(43.0,484.8) scale(0.983,1)" >落砂机</text>
<text x="0.00 15.08 30.15" y="0" font-size="12.75" fill="#dc2a30" stroke="#dc2a30" stroke-width="0.7" transform="translate(197.0,492.0) scale(1.058,1)" >破碎机</text>
<text x="0.00 15.08 30.15 45.23" y="0" font-size="12.75" fill="#dc2a30" stroke="#dc2a30" stroke-width="0.7" transform="translate(339.0,496.0) scale(1.042,1)" >气送装置</text>
<text x="0.00 17.40 34.79" y="0" font-size="14.71" fill="#dc2a30" stroke="#dc2a30" stroke-width="0.7" transform="translate(503.0,495.6) scale(0.775,1)" >混砂机</text>
<text x="0.00 17.40 34.79" y="0" font-size="14.71" fill="#dc2a30" stroke="#dc2a30" stroke-width="0.7" transform="translate(641.0,490.6) scale(0.713,1)" >振实台</text>
</svg>
</body></html>
